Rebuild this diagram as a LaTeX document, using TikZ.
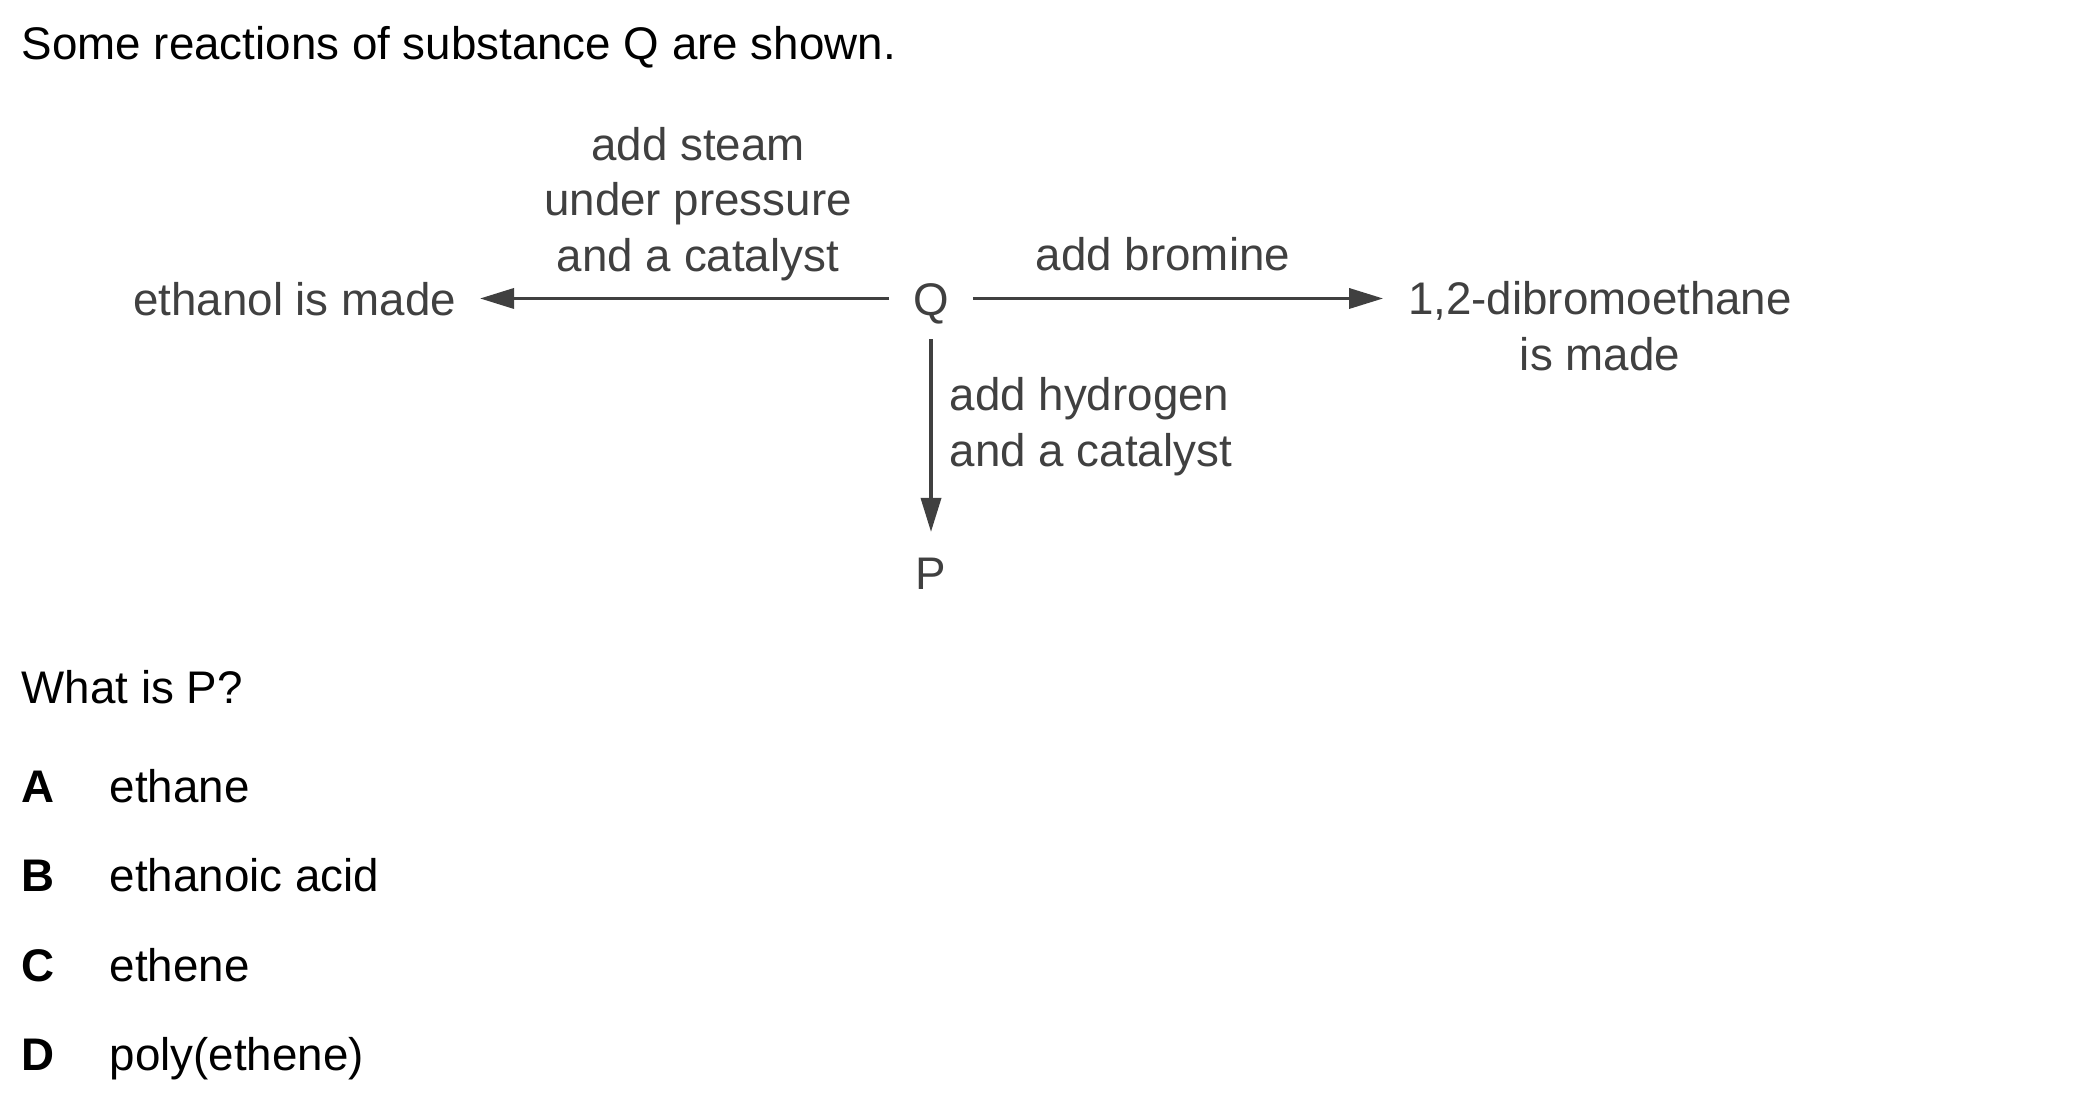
\documentclass[tikz,border=0pt]{standalone}
\usepackage{fontspec}
\setmainfont{Liberation Sans}
\usetikzlibrary{arrows.meta}
\definecolor{ink}{gray}{0.25}

\begin{document}
\begin{tikzpicture}[x=0.01cm, y=-0.01cm, line width=1pt,
    txt/.style={inner sep=0pt, anchor=base west, font=\fontsize{13}{15.65}\selectfont},
    chem/.style={inner sep=0pt, outer sep=0.24cm, text=ink, text height=9.4pt, text depth=0pt, font=\fontsize{13}{15.65}\selectfont},
    cond/.style={inner sep=0pt, text=ink, align=center, font=\fontsize{13}{15.65}\selectfont},
    rxn/.style={draw=ink, -{Triangle[length=0.34cm, width=0.2cm]}}]

    % Rahmen des Bildes
    \useasboundingbox (0,0) rectangle (2100,1100);

    % Einleitungssatz
    \node[txt] (intro) at (20,59) {Some reactions of substance Q are shown.};

    % Substanz Q in der Mitte
    \node[chem, anchor=base] (Q) at (931,315) {Q};

    % Produkte
    \node[chem, anchor=base east] (eth) at (480,315) {ethanol is made};
    \node[cond, anchor=base, outer sep=0.25cm] (dib) at (1600,370) {1,2-dibromoethane\\is made};
    \node[chem, anchor=base] (P) at (931,589) {P};

    % Reaktionspfeile
    \draw[rxn] (Q.west) -- (eth.east);
    \draw[rxn] (Q.east) -- (Q.east -| dib.west);
    \draw[rxn] (Q.south) -- (P.north);

    % Bedingungen an den Pfeilen (base = letzte Zeile)
    \node[cond, anchor=base] (steam) at (698,271) {add steam\\under pressure\\and a catalyst};
    \node[cond, anchor=base] (brom) at (1163,270) {add bromine};
    \node[cond, anchor=base west, align=left] (hyd) at (948,466) {add hydrogen\\and a catalyst};

    % Frage und Antworten
    \node[txt] (ask) at (20,703) {What is P?};
    \node[txt, font=\fontsize{13}{15.65}\selectfont\bfseries] (la) at (20,802) {A};
    \node[txt] (ta) at (108,802) {ethane};
    \node[txt, font=\fontsize{13}{15.65}\selectfont\bfseries] (lb) at (20,891) {B};
    \node[txt] (tb) at (108,891) {ethanoic acid};
    \node[txt, font=\fontsize{13}{15.65}\selectfont\bfseries] (lc) at (20,981) {C};
    \node[txt] (tc) at (108,981) {ethene};
    \node[txt, font=\fontsize{13}{15.65}\selectfont\bfseries] (ld) at (20,1070) {D};
    \node[txt] (td) at (108,1070) {poly(ethene)};

\end{tikzpicture}
\end{document}
